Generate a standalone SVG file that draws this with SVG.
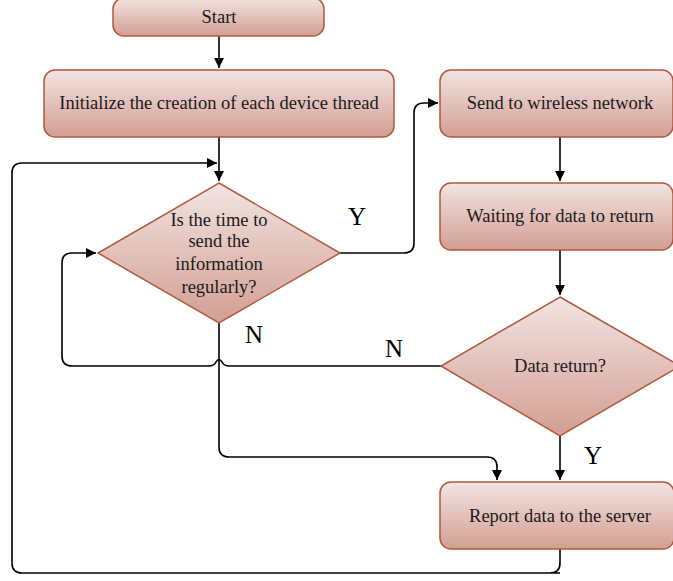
<svg xmlns="http://www.w3.org/2000/svg" width="673" height="581" viewBox="0 0 673 581">
<defs>
<linearGradient id="g" x1="0" y1="0" x2="0" y2="1">
<stop offset="0" stop-color="#f2e4e2"/>
<stop offset="1" stop-color="#d29e92"/>
</linearGradient>
<marker id="ah" viewBox="0 0 10 10" refX="10" refY="5" markerWidth="10" markerHeight="10" markerUnits="userSpaceOnUse" orient="auto">
<path d="M0,0 L10,5 L0,10 Z" fill="#000"/>
</marker>
<style>
.n{fill:url(#g);stroke:#b0593a;stroke-width:1.5}
.t{font-family:"Liberation Serif","Times New Roman",serif;font-size:18.5px;fill:#1a1a1a;text-anchor:middle}
.l{font-family:"Liberation Serif","Times New Roman",serif;font-size:25px;fill:#000;text-anchor:middle}
.c{fill:none;stroke:#000;stroke-width:1.6}
</style>
</defs>
<g id="connectors">
<path class="c" d="M219,36 V68" marker-end="url(#ah)"/>
<path class="c" d="M219,137 V181" marker-end="url(#ah)"/>
<path class="c" d="M560,573 H550 Q560,573 560,563 V549 M560,563 Q560,573 550,573 H22 Q12,573 12,563 V173 Q12,163 22,163 H217" marker-end="url(#ah)"/>
<path class="c" d="M340,253 H404 Q414,253 414,243 V113 Q414,103 424,103 H438" marker-end="url(#ah)"/>
<path class="c" d="M560,137 V181" marker-end="url(#ah)"/>
<path class="c" d="M560,250 V295" marker-end="url(#ah)"/>
<path class="c" d="M560,436 V480" marker-end="url(#ah)"/>
<path class="c" d="M441,366 H229 Q224,366 222,362 Q219,357 216,362 Q214,366 209,366 H72 Q62,366 62,356 V263 Q62,253 72,253 H96" marker-end="url(#ah)"/>
<path class="c" d="M219,323 V447 Q219,457 229,457 H487 Q497,457 497,467 V480" marker-end="url(#ah)"/>
</g>
<g id="start">
<rect class="n" x="113" y="-2" width="211" height="38" rx="11"/>
<text class="t" x="219" y="23">Start</text>
</g>
<g id="init">
<rect class="n" x="44" y="70" width="350" height="67" rx="11"/>
<text class="t" x="219" y="109">Initialize the creation of each device thread</text>
</g>
<g id="decision1">
<polygon class="n" points="219,183 340,253 219,323 98,253"/>
<text class="t" x="219" y="226">Is the time to</text>
<text class="t" x="219" y="247">send the</text>
<text class="t" x="219" y="270">information</text>
<text class="t" x="219" y="293">regularly?</text>
</g>
<g id="send">
<rect class="n" x="440" y="70" width="233" height="67" rx="11"/>
<text class="t" x="560" y="109">Send to wireless network</text>
</g>
<g id="wait">
<rect class="n" x="440" y="183" width="233" height="67" rx="11"/>
<text class="t" x="560" y="222">Waiting for data to return</text>
</g>
<g id="decision2">
<polygon class="n" points="560,297 680,366 560,436 441,366"/>
<text class="t" x="560" y="372">Data return?</text>
</g>
<g id="report">
<rect class="n" x="440" y="482" width="234" height="67" rx="11"/>
<text class="t" x="560" y="522">Report data to the server</text>
</g>
<g id="labels">
<text class="l" x="357" y="225">Y</text>
<text class="l" x="254" y="343">N</text>
<text class="l" x="394" y="357">N</text>
<text class="l" x="593" y="464">Y</text>
</g>
</svg>
